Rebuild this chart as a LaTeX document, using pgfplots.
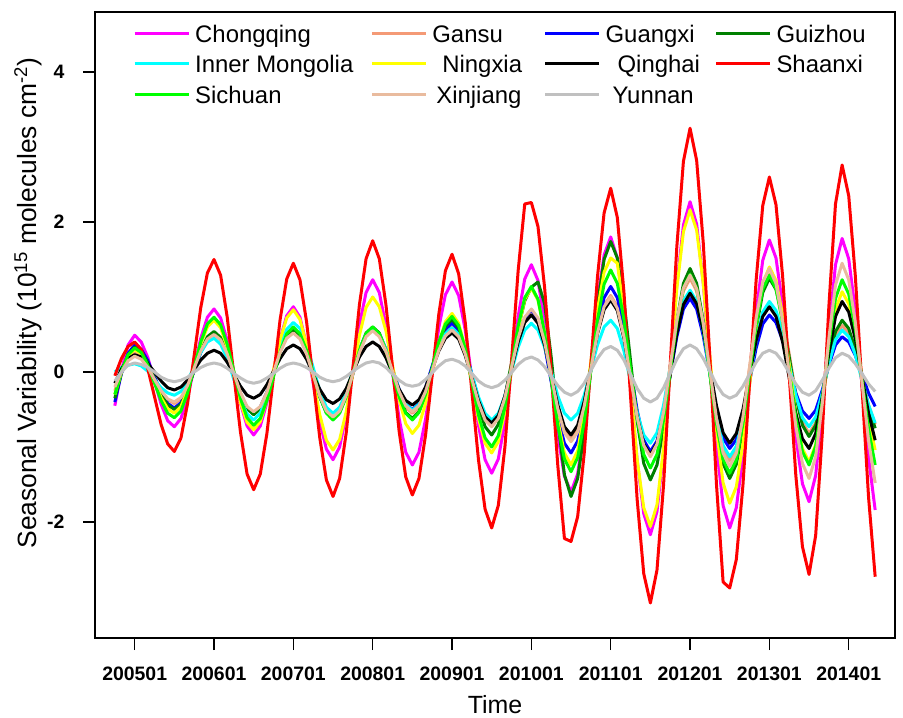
\documentclass[border=0pt]{standalone}
\usepackage{fontspec}
\setmainfont{Liberation Sans}
\usepackage{pgfplots}
\usepackage{pgfplotstable}
\pgfplotsset{compat=1.18}

\definecolor{cq}{RGB}{255,0,255}
\definecolor{gs}{RGB}{244,154,118}
\definecolor{gx}{RGB}{0,0,255}
\definecolor{gz}{RGB}{0,128,0}
\definecolor{im}{RGB}{0,255,255}
\definecolor{nx}{RGB}{255,255,0}
\definecolor{qh}{RGB}{0,0,0}
\definecolor{sx}{RGB}{255,0,0}
\definecolor{sc}{RGB}{0,255,0}
\definecolor{xj}{RGB}{233,187,158}
\definecolor{yn}{RGB}{192,192,192}

% m = months since 2005-01
\pgfplotstableread{
m CQ GS GX GZ IM NX QH SX SC XJ YN
-3 -0.45 -0.25 -0.40 -0.35 0.00 -0.30 -0.15 -0.05 -0.30 -0.20 -0.12
-2 0.02 0.00 -0.02 -0.01 0.06 0.00 0.04 0.18 0.01 0.00 0.00
-1 0.36 0.18 0.25 0.23 0.09 0.22 0.18 0.34 0.23 0.15 0.09
0 0.49 0.25 0.36 0.33 0.11 0.30 0.23 0.40 0.32 0.21 0.12
1 0.40 0.20 0.30 0.27 0.08 0.24 0.20 0.30 0.26 0.17 0.10
2 0.19 0.08 0.15 0.12 0.01 0.09 0.11 0.04 0.09 0.06 0.06
3 -0.12 -0.09 -0.06 -0.09 -0.10 -0.13 0.00 -0.33 -0.15 -0.10 0.00
4 -0.43 -0.25 -0.27 -0.29 -0.21 -0.34 -0.12 -0.70 -0.38 -0.25 -0.07
5 -0.65 -0.37 -0.42 -0.44 -0.28 -0.49 -0.21 -0.96 -0.55 -0.36 -0.11
6 -0.73 -0.42 -0.48 -0.50 -0.31 -0.55 -0.24 -1.06 -0.61 -0.40 -0.13
7 -0.62 -0.36 -0.41 -0.43 -0.26 -0.46 -0.20 -0.88 -0.52 -0.34 -0.11
8 -0.34 -0.19 -0.23 -0.24 -0.12 -0.24 -0.11 -0.42 -0.28 -0.18 -0.07
9 0.06 0.04 0.02 0.02 0.07 0.07 0.03 0.22 0.06 0.05 0.00
10 0.45 0.27 0.26 0.28 0.26 0.38 0.16 0.86 0.40 0.28 0.06
11 0.73 0.44 0.44 0.47 0.40 0.60 0.25 1.32 0.64 0.44 0.10
12 0.84 0.50 0.51 0.54 0.45 0.69 0.29 1.50 0.73 0.50 0.12
13 0.72 0.43 0.44 0.46 0.37 0.59 0.25 1.29 0.63 0.43 0.10
14 0.42 0.24 0.25 0.26 0.18 0.33 0.13 0.73 0.37 0.24 0.05
15 0.00 -0.03 -0.02 -0.02 -0.10 -0.04 -0.03 -0.04 0.01 -0.02 -0.02
16 -0.42 -0.29 -0.29 -0.29 -0.37 -0.41 -0.19 -0.80 -0.35 -0.27 -0.08
17 -0.72 -0.48 -0.48 -0.49 -0.56 -0.67 -0.31 -1.36 -0.61 -0.46 -0.13
18 -0.84 -0.55 -0.55 -0.57 -0.64 -0.77 -0.35 -1.57 -0.71 -0.53 -0.15
19 -0.72 -0.47 -0.47 -0.49 -0.55 -0.66 -0.30 -1.36 -0.62 -0.46 -0.13
20 -0.41 -0.28 -0.27 -0.29 -0.32 -0.37 -0.17 -0.82 -0.38 -0.27 -0.08
21 0.02 0.00 0.01 -0.01 0.01 0.03 0.01 -0.06 -0.06 0.00 -0.02
22 0.44 0.28 0.28 0.28 0.34 0.43 0.18 0.70 0.27 0.26 0.05
23 0.75 0.47 0.48 0.48 0.57 0.72 0.31 1.24 0.51 0.45 0.10
24 0.87 0.55 0.56 0.56 0.66 0.83 0.36 1.45 0.60 0.52 0.12
25 0.73 0.47 0.48 0.48 0.58 0.70 0.31 1.23 0.51 0.44 0.10
26 0.36 0.26 0.27 0.27 0.36 0.36 0.17 0.67 0.29 0.24 0.06
27 -0.15 -0.03 -0.03 -0.03 0.06 -0.11 -0.03 -0.11 -0.02 -0.04 0.00
28 -0.66 -0.31 -0.33 -0.33 -0.25 -0.57 -0.23 -0.88 -0.33 -0.32 -0.07
29 -1.03 -0.52 -0.54 -0.54 -0.47 -0.91 -0.37 -1.44 -0.55 -0.52 -0.11
30 -1.17 -0.60 -0.62 -0.62 -0.55 -1.04 -0.42 -1.66 -0.64 -0.60 -0.13
31 -1.00 -0.52 -0.54 -0.53 -0.47 -0.90 -0.36 -1.42 -0.55 -0.52 -0.11
32 -0.57 -0.31 -0.32 -0.32 -0.27 -0.53 -0.22 -0.81 -0.33 -0.31 -0.06
33 0.03 -0.02 -0.03 -0.01 0.02 -0.02 -0.01 0.05 -0.02 -0.03 0.01
34 0.63 0.28 0.27 0.30 0.30 0.49 0.20 0.90 0.29 0.26 0.07
35 1.06 0.49 0.49 0.52 0.50 0.86 0.34 1.51 0.51 0.47 0.12
36 1.23 0.57 0.57 0.60 0.58 1.00 0.40 1.75 0.60 0.55 0.14
37 1.06 0.49 0.50 0.52 0.50 0.87 0.34 1.51 0.51 0.47 0.12
38 0.61 0.29 0.30 0.30 0.31 0.55 0.19 0.90 0.29 0.28 0.06
39 -0.01 0.01 0.04 -0.01 0.04 0.09 -0.02 0.06 -0.02 0.01 -0.03
40 -0.62 -0.27 -0.23 -0.32 -0.24 -0.37 -0.23 -0.79 -0.33 -0.26 -0.11
41 -1.07 -0.47 -0.43 -0.54 -0.43 -0.69 -0.38 -1.40 -0.55 -0.45 -0.17
42 -1.24 -0.55 -0.50 -0.62 -0.51 -0.82 -0.44 -1.64 -0.64 -0.53 -0.19
43 -1.07 -0.47 -0.42 -0.53 -0.43 -0.71 -0.37 -1.42 -0.54 -0.45 -0.17
44 -0.63 -0.26 -0.21 -0.29 -0.24 -0.42 -0.20 -0.84 -0.30 -0.26 -0.10
45 -0.02 0.03 0.08 0.04 0.04 -0.02 0.04 -0.04 0.05 0.02 -0.01
46 0.59 0.31 0.36 0.37 0.32 0.38 0.28 0.77 0.40 0.29 0.08
47 1.03 0.52 0.57 0.61 0.51 0.67 0.45 1.35 0.64 0.48 0.15
48 1.20 0.60 0.65 0.70 0.59 0.78 0.52 1.57 0.74 0.56 0.17
49 1.02 0.51 0.56 0.59 0.50 0.65 0.44 1.31 0.62 0.47 0.14
50 0.56 0.27 0.31 0.32 0.28 0.32 0.22 0.66 0.31 0.24 0.08
51 -0.08 -0.06 -0.03 -0.07 -0.03 -0.15 -0.08 -0.26 -0.13 -0.09 -0.02
52 -0.71 -0.39 -0.36 -0.46 -0.33 -0.62 -0.38 -1.17 -0.57 -0.41 -0.12
53 -1.17 -0.63 -0.61 -0.73 -0.55 -0.95 -0.60 -1.83 -0.88 -0.64 -0.18
54 -1.35 -0.72 -0.70 -0.84 -0.64 -1.08 -0.68 -2.08 -1.00 -0.73 -0.21
55 -1.16 -0.61 -0.59 -0.70 -0.55 -0.93 -0.58 -1.78 -0.85 -0.62 -0.18
56 -0.66 -0.34 -0.32 -0.33 -0.32 -0.53 -0.32 -1.00 -0.47 -0.34 -0.11
57 0.04 0.05 0.07 0.12 0.01 0.02 0.04 0.15 0.07 0.06 -0.01
58 0.74 0.44 0.45 0.58 0.33 0.57 0.40 1.35 0.61 0.45 0.10
59 1.24 0.71 0.72 0.95 0.56 0.97 0.66 2.24 0.99 0.73 0.17
60 1.43 0.82 0.83 1.13 0.65 1.12 0.76 2.26 1.14 0.84 0.20
61 1.22 0.70 0.70 1.20 0.56 0.96 0.65 1.94 0.97 0.72 0.16
62 0.67 0.39 0.35 0.91 0.33 0.53 0.36 1.13 0.52 0.40 0.07
63 -0.09 -0.04 -0.13 0.20 0.01 -0.06 -0.04 0.00 -0.10 -0.05 -0.06
64 -0.84 -0.47 -0.60 -0.66 -0.32 -0.65 -0.44 -1.25 -0.71 -0.49 -0.18
65 -1.39 -0.78 -0.95 -1.37 -0.55 -1.08 -0.73 -2.22 -1.16 -0.81 -0.27
66 -1.60 -0.90 -1.08 -1.66 -0.64 -1.24 -0.84 -2.26 -1.33 -0.93 -0.31
67 -1.36 -0.77 -0.92 -1.42 -0.55 -1.05 -0.71 -1.93 -1.14 -0.80 -0.26
68 -0.75 -0.42 -0.53 -0.81 -0.31 -0.55 -0.39 -1.08 -0.66 -0.45 -0.15
69 0.10 0.06 0.03 0.04 0.03 0.14 0.06 0.10 0.02 0.04 0.02
70 0.95 0.54 0.59 0.89 0.36 0.83 0.51 1.27 0.69 0.52 0.18
71 1.56 0.89 0.99 1.50 0.60 1.33 0.83 2.12 1.17 0.87 0.30
72 1.80 1.02 1.14 1.74 0.69 1.52 0.96 2.45 1.36 1.00 0.34
73 1.52 0.87 0.99 1.52 0.58 1.45 0.82 2.06 1.18 0.85 0.29
74 0.81 0.49 0.59 0.95 0.28 0.80 0.45 1.07 0.70 0.47 0.16
75 -0.19 -0.05 0.04 0.15 -0.13 -0.20 -0.07 -0.32 0.04 -0.07 -0.03
76 -1.18 -0.59 -0.51 -0.65 -0.54 -1.17 -0.59 -1.70 -0.62 -0.60 -0.22
77 -1.89 -0.97 -0.91 -1.22 -0.84 -1.81 -0.96 -2.69 -1.10 -0.98 -0.35
78 -2.17 -1.12 -1.06 -1.44 -0.95 -2.06 -1.10 -3.08 -1.28 -1.13 -0.40
79 -1.86 -0.95 -0.92 -1.24 -0.81 -1.77 -0.95 -2.64 -1.10 -0.96 -0.35
80 -1.06 -0.53 -0.55 -0.74 -0.44 -1.01 -0.56 -1.50 -0.64 -0.53 -0.21
81 0.05 0.07 -0.04 -0.03 0.07 0.05 -0.03 0.09 0.01 0.08 -0.02
82 1.16 0.66 0.47 0.68 0.58 1.11 0.51 1.67 0.66 0.69 0.17
83 1.96 1.08 0.84 1.18 0.95 1.87 0.90 2.81 1.12 1.12 0.31
84 2.27 1.25 0.98 1.38 1.09 2.16 1.05 3.25 1.30 1.29 0.36
85 1.97 1.08 0.84 1.18 0.94 1.89 0.91 2.82 1.11 1.11 0.31
86 1.18 0.64 0.48 0.68 0.54 1.18 0.55 1.72 0.64 0.65 0.18
87 0.10 0.04 -0.02 -0.02 -0.02 0.21 0.05 0.19 -0.03 0.02 0.01
88 -0.99 -0.57 -0.52 -0.72 -0.58 -0.77 -0.45 -1.50 -0.69 -0.62 -0.17
89 -1.78 -1.01 -0.88 -1.22 -0.98 -1.48 -0.81 -2.80 -1.17 -1.08 -0.30
90 -2.08 -1.18 -1.02 -1.42 -1.13 -1.75 -0.95 -2.88 -1.35 -1.26 -0.35
91 -1.81 -1.01 -0.90 -1.23 -0.99 -1.53 -0.82 -2.50 -1.17 -1.08 -0.31
92 -1.12 -0.56 -0.58 -0.75 -0.61 -0.96 -0.50 -1.51 -0.69 -0.60 -0.19
93 -0.16 0.06 -0.13 -0.09 -0.10 -0.18 -0.04 -0.14 -0.03 0.06 -0.03
94 0.80 0.68 0.32 0.58 0.42 0.61 0.42 1.23 0.63 0.72 0.13
95 1.49 1.13 0.64 1.06 0.80 1.18 0.74 2.22 1.11 1.20 0.25
96 1.76 1.30 0.76 1.25 0.94 1.40 0.87 2.60 1.29 1.38 0.29
97 1.52 1.15 0.66 1.10 0.82 1.22 0.74 2.23 1.11 1.18 0.25
98 0.89 0.77 0.42 0.72 0.52 0.75 0.40 1.28 0.66 0.68 0.14
99 0.02 0.24 0.07 0.20 0.11 0.10 -0.08 -0.05 0.03 -0.02 -0.01
100 -0.86 -0.29 -0.28 -0.33 -0.31 -0.55 -0.55 -1.38 -0.61 -0.72 -0.16
101 -1.49 -0.67 -0.52 -0.71 -0.61 -1.02 -0.89 -2.33 -1.06 -1.22 -0.27
102 -1.73 -0.82 -0.62 -0.86 -0.73 -1.20 -1.02 -2.70 -1.24 -1.42 -0.31
103 -1.38 -0.68 -0.51 -0.71 -0.60 -0.97 -0.82 -2.18 -0.99 -1.13 -0.25
104 -0.50 -0.32 -0.24 -0.32 -0.28 -0.41 -0.33 -0.82 -0.38 -0.42 -0.11
105 0.55 0.12 0.09 0.15 0.11 0.28 0.25 0.88 0.37 0.45 0.05
106 1.43 0.48 0.36 0.54 0.43 0.84 0.74 2.24 0.98 1.16 0.19
107 1.78 0.62 0.47 0.69 0.56 1.07 0.94 2.76 1.23 1.45 0.25
108 1.51 0.52 0.40 0.58 0.47 0.91 0.80 2.35 1.04 1.23 0.21
109 0.81 0.27 0.22 0.30 0.23 0.50 0.44 1.28 0.57 0.66 0.11
110 -0.17 -0.09 -0.03 -0.08 -0.11 -0.06 -0.06 -0.19 -0.10 -0.13 -0.02
111 -1.14 -0.44 -0.28 -0.47 -0.44 -0.63 -0.55 -1.67 -0.76 -0.91 -0.16
112 -1.84 -0.70 -0.46 -0.75 -0.68 -1.04 -0.91 -2.73 -1.24 -1.48 -0.26
}\datatable

\begin{document}
\begin{tikzpicture}
\path[use as bounding box] (-95bp,-80bp) rectangle (808bp,638bp);
\begin{axis}[
  at={(0,0)}, anchor=south west,
  width=800bp, height=626bp, scale only axis,
  xmin=-6, xmax=115, ymin=-3.547, ymax=4.8,
  axis line style={line width=2bp},
  tick align=outside,
  major tick length=12bp,
  tick style={line width=1.5bp, black},
  xtick pos=bottom, ytick pos=left,
  xtick={0,12,24,36,48,60,72,84,96,108},
  xticklabels={200501,200601,200701,200801,200901,201001,201101,201201,201301,201401},
  ytick={-2,0,2,4},
  yticklabels={-2,0,2,4},
  ticklabel style={font=\fontsize{19.5}{22}\selectfont\bfseries},
  xticklabel style={yshift=-13bp},
  yticklabel style={xshift=-15bp},
  xlabel={Time},
  ylabel={Seasonal Variability (10\textsuperscript{15} molecules cm\textsuperscript{-2})},
  label style={font=\fontsize{25}{29}\selectfont},
  xlabel style={at={(axis description cs:0.5,-0.107)}, anchor=center},
  ylabel style={at={(axis description cs:-0.084,0.535)}, anchor=center, font=\fontsize{26.5}{30}\selectfont},
  every axis plot/.append style={line width=3bp, line join=round},
  legend columns=4,
  legend cell align=left,
  legend image code/.code={\draw[#1, line width=3bp] (0bp,0.33em) -- (54bp,0.33em);},
  legend style={
    at={(axis description cs:0.0475,0.979)}, anchor=north west,
    draw=none, fill=none, inner sep=0pt,
    font=\fontsize{24}{28}\selectfont,
    row sep=8.5bp, column sep=0bp,
    nodes={inner sep=0pt, text height=17bp, text depth=5bp},
    /tikz/column 1/.style={column sep=5bp},
    /tikz/column 2/.style={column sep=17bp},
    /tikz/column 3/.style={column sep=5bp},
    /tikz/column 4/.style={column sep=21.5bp},
    /tikz/column 5/.style={column sep=5bp},
    /tikz/column 6/.style={column sep=14.5bp},
    /tikz/column 7/.style={column sep=5bp},
  },
]
\addplot[cq] table[x=m, y=CQ] {\datatable};
\addlegendentry{Chongqing}
\addplot[gs] table[x=m, y=GS] {\datatable};
\addlegendentry{Gansu}
\addplot[gx] table[x=m, y=GX] {\datatable};
\addlegendentry{Guangxi}
\addplot[gz] table[x=m, y=GZ] {\datatable};
\addlegendentry{Guizhou}
\addplot[im] table[x=m, y=IM] {\datatable};
\addlegendentry{Inner Mongolia}
\addplot[nx] table[x=m, y=NX] {\datatable};
\addlegendentry{\hspace*{10bp}Ningxia}
\addplot[qh] table[x=m, y=QH] {\datatable};
\addlegendentry{\hspace*{12bp}Qinghai}
\addplot[sx] table[x=m, y=SX] {\datatable};
\addlegendentry{Shaanxi}
\addplot[sc] table[x=m, y=SC] {\datatable};
\addlegendentry{Sichuan}
\addplot[xj] table[x=m, y=XJ] {\datatable};
\addlegendentry{\hspace*{4bp}Xinjiang}
\addplot[yn] table[x=m, y=YN] {\datatable};
\addlegendentry{\hspace*{7bp}Yunnan}
\end{axis}
\end{tikzpicture}
\end{document}
